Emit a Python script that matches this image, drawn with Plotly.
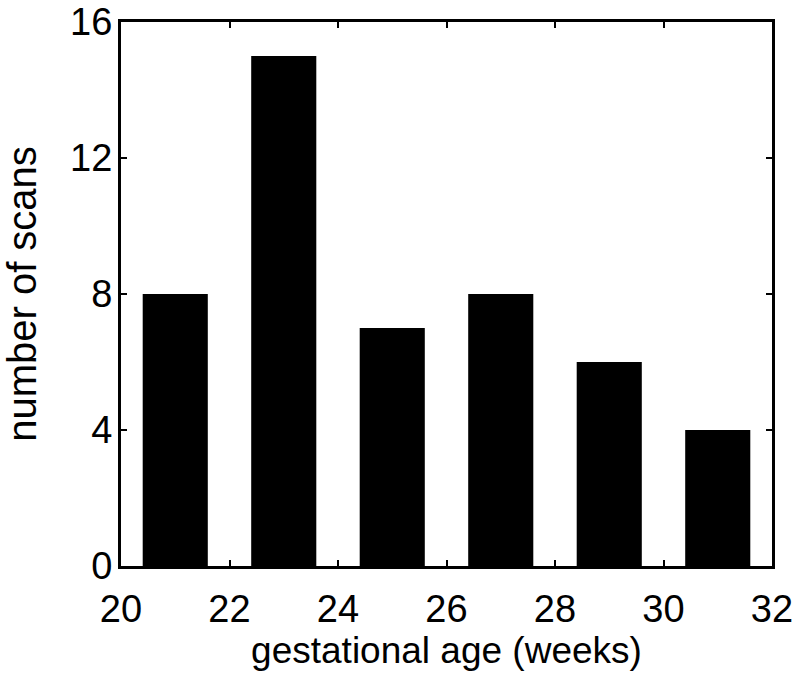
import plotly.graph_objects as go

# 孕周分组（柱中心）与扫描次数
ages = [21, 23, 25, 27, 29, 31]
scans = [8, 15, 7, 8, 6, 4]
x_ticks = [20, 22, 24, 26, 28, 30, 32]
y_ticks = [0, 4, 8, 12, 16]

FONT = 'Liberation Sans, Arial'

fig = go.Figure()
fig.add_trace(
    go.Bar(
        x=ages,
        y=scans,
        width=1.2,
        marker=dict(color='black', line=dict(width=0)),
    )
)

axis_style = dict(
    showline=True,
    linecolor='black',
    linewidth=3,
    mirror='ticks',
    ticks='inside',
    ticklen=6,
    tickwidth=2,
    tickcolor='black',
    showgrid=False,
    zeroline=False,
    automargin=False,
    ticklabeloverflow='allow',
    tickfont=dict(family=FONT, size=38, color='black'),
)

fig.update_xaxes(
    range=[20, 32],
    tickvals=x_ticks,
    title=dict(text='gestational age (weeks)',
               font=dict(family=FONT, size=37, color='black'),
               standoff=3),
    ticklabelstandoff=7,
    **axis_style
)
fig.update_yaxes(
    range=[0, 16],
    tickvals=y_ticks,
    title=dict(text='number of scans',
               font=dict(family=FONT, size=40, color='black'),
               standoff=26),
    ticklabelstandoff=-2,
    **axis_style
)

fig.update_layout(
    width=800,
    height=683,
    margin=dict(l=121, r=28, t=22, b=117),
    plot_bgcolor='white',
    paper_bgcolor='white',
    showlegend=False,
)

# 去掉页面 body 默认的 8px 边距，让图正好占满窗口
fig.write_html("out.html", config={'displayModeBar': False},
               post_script="document.body.style.margin = '0';")
